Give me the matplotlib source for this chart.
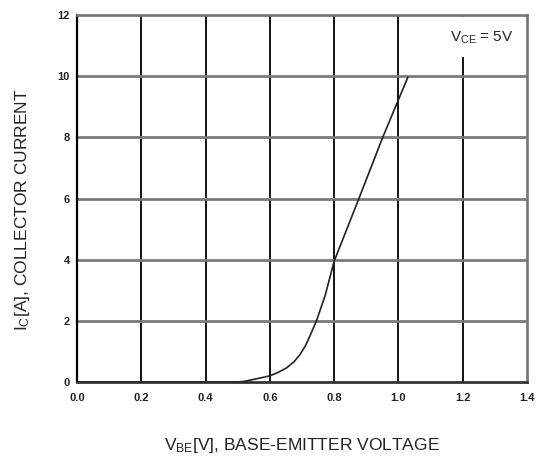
import matplotlib
matplotlib.use("Agg")
import matplotlib.pyplot as plt
from matplotlib.patches import Rectangle

# V_BE [V] vs I_C [A] (V_CE = 5V)
vbe = [0.0, 0.5, 0.52, 0.543, 0.57, 0.6, 0.625, 0.652, 0.675, 0.693, 0.71,
       0.724, 0.745, 0.772, 0.8, 0.877, 0.951, 1.029]
ic = [0.0, 0.0, 0.02, 0.07, 0.13, 0.2, 0.31, 0.46, 0.66, 0.89, 1.17,
      1.49, 2.0, 2.83, 3.95, 6.0, 8.0, 9.96]

xticks = [0.0, 0.2, 0.4, 0.6, 0.8, 1.0, 1.2, 1.4]
xtick_labels = ["0.0", "0.2", "0.4", "0.6", "0.8", "1.0", "1.2", "1.4"]
yticks = [0, 2, 4, 6, 8, 10, 12]

plt.rcParams["font.family"] = ["Liberation Sans", "DejaVu Sans"]
plt.rcParams["mathtext.default"] = "regular"

fig = plt.figure(figsize=(5.37, 4.58), dpi=100)
ax = fig.add_axes([0.1434, 0.166, 0.838, 0.801])

ax.set_xlim(0, 1.4)
ax.set_ylim(0, 12)

# grid: vertical lines black, horizontal grey
for x in xticks[1:-1]:
    ax.axvline(x, color="black", linewidth=1.3, zorder=1)
for y in yticks[1:-1]:
    ax.axhline(y, color="#7a7a7a", linewidth=2.0, zorder=1)

ax.plot(vbe, ic, color="#222222", linewidth=1.2, zorder=3)

for side in ["top", "right"]:
    ax.spines[side].set_color("#7a7a7a")
    ax.spines[side].set_linewidth(2.0)
ax.spines["left"].set_color("black")
ax.spines["left"].set_linewidth(1.6)
ax.spines["bottom"].set_color("#333333")
ax.spines["bottom"].set_linewidth(2.0)

ax.set_xticks(xticks)
ax.set_xticklabels(xtick_labels)
ax.set_yticks(yticks)
ax.tick_params(length=0, labelsize=8, colors="#222222", pad=8)
ax.tick_params(axis="y", pad=5)
for lbl in ax.get_xticklabels() + ax.get_yticklabels():
    lbl.set_fontweight("bold")

ax.set_xlabel(r"V$_{BE}$[V], BASE-EMITTER VOLTAGE", fontsize=12.5,
              color="#222222", labelpad=24)
ax.set_ylabel(r"I$_{C}$[A], COLLECTOR CURRENT", fontsize=12.5,
              color="#222222")
ax.yaxis.set_label_coords(-0.10, 0.47)

# white patch behind the condition label (breaks the 1.2 grid line)
ax.add_patch(Rectangle((0.80, 0.886), 0.19, 0.108, transform=ax.transAxes,
                       facecolor="white", edgecolor="none", zorder=2))
ax.text(1.161, 11.25, r"V$_{CE}$ = 5V", fontsize=11, color="#222222",
        ha="left", va="center", zorder=4)

fig.savefig("out.png", dpi=100)
plt.close(fig)
